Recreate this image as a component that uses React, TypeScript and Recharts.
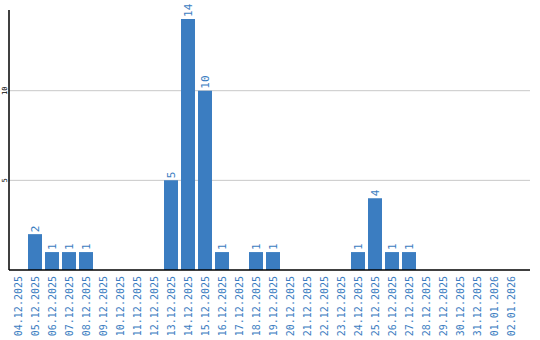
import React from 'react';
import { BarChart, Bar, XAxis, YAxis, CartesianGrid, LabelList } from 'recharts';

const dates = [
  '04.12.2025', '05.12.2025', '06.12.2025', '07.12.2025', '08.12.2025', '09.12.2025',
  '10.12.2025', '11.12.2025', '12.12.2025', '13.12.2025', '14.12.2025', '15.12.2025',
  '16.12.2025', '17.12.2025', '18.12.2025', '19.12.2025', '20.12.2025', '21.12.2025',
  '22.12.2025', '23.12.2025', '24.12.2025', '25.12.2025', '26.12.2025', '27.12.2025',
  '28.12.2025', '29.12.2025', '30.12.2025', '31.12.2025', '01.01.2026', '02.01.2026',
];
const counts = [0, 2, 1, 1, 1, 0, 0, 0, 0, 5, 14, 10, 1, 0, 1, 1, 0, 0, 0, 0, 1, 4, 1, 1, 0, 0, 0, 0, 0, 0];
const yTicks = [5, 10];

const BLUE = '#3b7dc1';

const data = dates.map((d, i) => ({ date: d, count: counts[i] }));

// rotated date labels hanging under the axis
const DateTick = ({ x, payload }: any) => (
  <text
    x={0}
    y={0}
    transform={`translate(${x + 4},276) rotate(-90)`}
    textAnchor="end"
    fill={BLUE}
    fontSize={10}
    fontFamily="DejaVu Sans Mono"
  >
    {payload.value}
  </text>
);

const ValueTick = ({ y, payload }: any) => (
  <text
    x={0}
    y={0}
    transform={`translate(7,${y}) rotate(-90)`}
    textAnchor="middle"
    fill="#000"
    fontSize={7}
    fontFamily="DejaVu Sans Mono"
  >
    {payload.value}
  </text>
);

const BarValue = (props: any) => {
  const { x, y, width, value } = props;
  if (!value) return null;
  return (
    <text
      x={0}
      y={0}
      transform={`translate(${x + width / 2 + 4},${y - 2}) rotate(-90)`}
      textAnchor="start"
      fill={BLUE}
      fontSize={11}
      fontFamily="DejaVu Sans Mono"
    >
      {value}
    </text>
  );
};

export default function App() {
  return (
    <div style={{ width: 540, height: 340, background: '#fff' }}>
      <style>{'body{margin:0}'}</style>
      <BarChart width={540} height={340} data={data} margin={{ top: 10, right: 10, bottom: 0, left: 0 }}>
        <CartesianGrid vertical={false} stroke="#c8c8c8" horizontalValues={yTicks} />
        <XAxis
          dataKey="date"
          interval={0}
          height={70}
          padding={{ left: 0, right: 11 }}
          tick={<DateTick />}
          tickLine={false}
          axisLine={{ stroke: '#000', strokeWidth: 1.5 }}
        />
        <YAxis
          width={9}
          domain={[0, 14.5]}
          ticks={yTicks}
          tick={<ValueTick />}
          tickLine={false}
          axisLine={{ stroke: '#000', strokeWidth: 1.5 }}
        />
        <Bar dataKey="count" fill={BLUE} barSize={14} isAnimationActive={false}>
          <LabelList dataKey="count" content={<BarValue />} />
        </Bar>
      </BarChart>
    </div>
  );
}
